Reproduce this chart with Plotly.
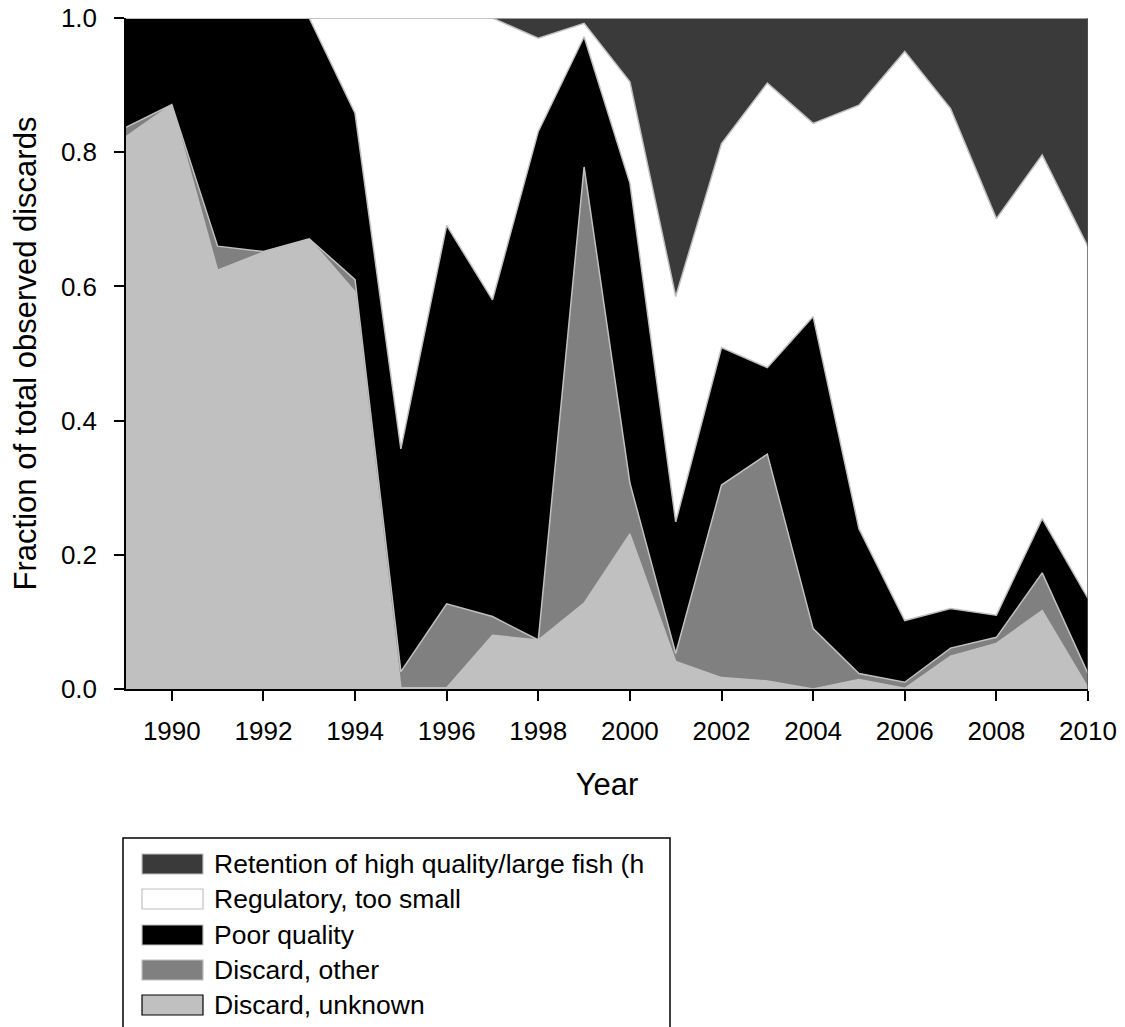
import plotly.graph_objects as go

years = list(range(1989, 2011))

# fraction of discards per reason (stacked bottom to top)
discard_unknown = [0.823, 0.871, 0.624, 0.651, 0.671, 0.592, 0.002, 0.002, 0.080, 0.073, 0.128,
                   0.231, 0.041, 0.017, 0.012, 0.000, 0.014, 0.001, 0.049, 0.068, 0.117, 0.002]
discard_other = [0.014, 0.000, 0.036, 0.001, 0.000, 0.018, 0.024, 0.125, 0.028, 0.000, 0.650,
                 0.076, 0.012, 0.287, 0.338, 0.090, 0.009, 0.009, 0.012, 0.009, 0.056, 0.021]
poor_quality = [0.163, 0.129, 0.340, 0.348, 0.329, 0.248, 0.332, 0.564, 0.472, 0.758, 0.194,
                0.447, 0.196, 0.205, 0.129, 0.465, 0.216, 0.092, 0.059, 0.033, 0.081, 0.112]
regulatory_small = [0.000, 0.000, 0.000, 0.000, 0.000, 0.142, 0.642, 0.309, 0.420, 0.139, 0.020,
                    0.151, 0.336, 0.304, 0.424, 0.288, 0.631, 0.848, 0.745, 0.591, 0.542, 0.524]
retention_high = [0.000, 0.000, 0.000, 0.000, 0.000, 0.000, 0.000, 0.000, 0.000, 0.030, 0.008,
                  0.095, 0.415, 0.187, 0.097, 0.157, 0.130, 0.050, 0.135, 0.299, 0.204, 0.341]

series = [
    ("Discard, unknown", discard_unknown, "#c0c0c0"),
    ("Discard, other", discard_other, "#808080"),
    ("Poor quality", poor_quality, "#000000"),
    ("Regulatory, too small", regulatory_small, "#ffffff"),
    ("Retention of high quality/large fish (h", retention_high, "#3a3a3a"),
]

fig = go.Figure()

for name, vals, col in series:
    fig.add_trace(go.Scatter(
        x=years,
        y=vals,
        mode="lines",
        name=name,
        stackgroup="one",
        fillcolor=col,
        line=dict(color="#c0c0c0", width=1.5),
        showlegend=False
    ))

# plot area in page pixels: x 126..1088, y 18..689
def px_x(p):
    return (p - 126) / 962

def px_y(p):
    return (689 - p) / 671

# legend drawn by hand: box that runs off the bottom of the page
fig.add_shape(type="rect", xref="paper", yref="paper",
              x0=px_x(123), x1=px_x(670), y0=px_y(1070), y1=px_y(838),
              line=dict(color="black", width=1.5), fillcolor="white")

row_px = [864, 899, 935, 970, 1005]
for (name, vals, col), ypx in zip(reversed(series), row_px):
    edge = "#000000" if name == "Discard, unknown" else "#c0c0c0"
    fig.add_shape(type="rect", xref="paper", yref="paper",
                  x0=px_x(142), x1=px_x(203),
                  y0=px_y(ypx + 10), y1=px_y(ypx - 10),
                  line=dict(color=edge, width=1.2), fillcolor=col)
    fig.add_annotation(text=name, xref="paper", yref="paper",
                       x=px_x(212), y=px_y(ypx), xanchor="left", yanchor="middle",
                       showarrow=False, font=dict(size=26.5, color="black"))

# right edge of the data area
fig.add_shape(type="line", xref="x", yref="paper", x0=2010, x1=2010, y0=0, y1=1,
              line=dict(color="#555555", width=1.5))

fig.update_layout(
    width=1125,
    height=1027,
    margin=dict(l=118, r=45, t=10, b=346),
    plot_bgcolor="white",
    paper_bgcolor="white",
    font=dict(family="Liberation Sans, Arial, sans-serif", size=26, color="black"),
    xaxis=dict(
        range=[1989, 2010],
        tickvals=list(range(1990, 2011, 2)),
        ticks="outside", ticklen=10, tickwidth=1.5, tickcolor="black",
        ticklabelstandoff=8,
        showline=True, linecolor="black", linewidth=1.5,
        showgrid=False, zeroline=False,
        automargin=False,
        title=dict(text="Year", font=dict(size=31), standoff=28)
    ),
    yaxis=dict(
        range=[0, 1],
        tickvals=[0, 0.2, 0.4, 0.6, 0.8, 1.0],
        tickformat=".1f",
        ticks="outside", ticklen=10, tickwidth=1.5, tickcolor="black",
        ticklabelstandoff=12,
        ticklabeloverflow="allow",
        showline=True, linecolor="black", linewidth=1.5,
        showgrid=False, zeroline=False,
        automargin=False,
        title=dict(text="Fraction of total observed discards", font=dict(size=31), standoff=26)
    ),
)

fig.write_html("out.html")
